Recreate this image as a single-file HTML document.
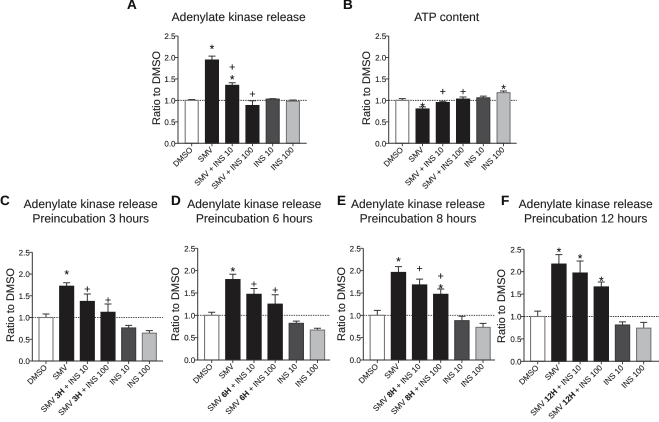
<!DOCTYPE html>
<html>
<head>
<meta charset="utf-8">
<title>Adenylate kinase and ATP panels</title>
<style>
html,body{margin:0;padding:0;background:#fff;width:659px;height:422px;overflow:hidden}
svg{display:block;font-family:"Liberation Sans",sans-serif;filter:blur(0.35px);text-rendering:geometricPrecision}
text{stroke:#222;stroke-width:0.12}
</style>
</head>
<body>
<svg id="figure" width="659" height="422" viewBox="0 0 659 422" xmlns="http://www.w3.org/2000/svg"></svg>
<script>
// Chart data
const categories = ["DMSO", "SMV", "SMV{h} + INS 10", "SMV{h} + INS 100", "INS 10", "INS 100"];
const tickLabels = ["0.0", "0.5", "1.0", "1.5", "2.0", "2.5"];
const tickValues = [0, 0.5, 1, 1.5, 2, 2.5];
const referenceValue = 1;

const valuesA = [1.00, 1.94, 1.35, 0.88, 1.03, 0.98];
const errorsA = [0.02, 0.09, 0.06, 0.11, 0.01, 0.03];
const marksA = ["", "*", "*+", "+", "", ""];

const valuesB = [1.00, 0.80, 0.95, 1.03, 1.06, 1.18];
const errorsB = [0.04, 0.05, 0.03, 0.05, 0.04, 0.04];
const marksB = ["", "*", "+", "+", "", "*"];

const valuesC = [1.00, 1.72, 1.37, 1.12, 0.76, 0.64];
const errorsC = [0.08, 0.08, 0.17, 0.19, 0.06, 0.06];
const marksC = ["", "*", "+", "+", "", ""];

const valuesD = [1.00, 1.80, 1.47, 1.25, 0.82, 0.67];
const errorsD = [0.07, 0.12, 0.13, 0.21, 0.05, 0.04];
const marksD = ["", "*", "+", "+", "", ""];

const valuesE = [1.00, 1.96, 1.68, 1.47, 0.88, 0.73];
const errorsE = [0.11, 0.13, 0.13, 0.12, 0.10, 0.09];
const marksE = ["", "*", "+", "*+", "", ""];

const valuesF = [1.00, 2.17, 1.97, 1.66, 0.81, 0.74];
const errorsF = [0.12, 0.21, 0.27, 0.11, 0.07, 0.13];
const marksF = ["", "*", "*", "*", "", ""];

// Styling and layout (not data)
const fills = ["#ffffff", "#1f1d1e", "#1f1d1e", "#1f1d1e", "#4c4c4e", "#bcbdbf"];
const strokes = ["#77777a", "#1f1d1e", "#1f1d1e", "#1f1d1e", "#3c3c3e", "#77777a"];
const panels = [
  {id:"a", letter:"A", lx:127, ly:9, title:["Adenylate kinase release"], tx:238.7, ty:21, values:valuesA, errors:errorsA, marks:marksA, hour:"",
   gaps:[[],[10],[6,16],[7],[],[]],
   axisX:178, top:36, bottom:143.3, first:191.7, step:20.25, barW:13, right:306.7, ylx:160, yly:88},
  {id:"b", letter:"B", lx:343, ly:9, title:["ATP content"], tx:446.7, ty:21, values:valuesB, errors:errorsB, marks:marksB, hour:"",
   gaps:[[],[2.5],[10],[5.7],[],[5]],
   axisX:388.7, top:36, bottom:143.3, first:402.3, step:20.25, barW:13, right:516.7, ylx:370, yly:88},
  {id:"c", letter:"C", lx:0, ly:205, title:["Adenylate kinase release","Preincubation 3 hours"], tx:90.7, ty:208, values:valuesC, errors:errorsC, marks:marksC, hour:"3H",
   gaps:[[],[11],[5],[4],[],[]],
   axisX:32.3, top:252.3, bottom:361, first:46, step:20.67, barW:14, right:163, ylx:14, yly:305},
  {id:"d", letter:"D", lx:171, ly:205, title:["Adenylate kinase release","Preincubation 6 hours"], tx:254.3, ty:208, values:valuesD, errors:errorsD, marks:marksD, hour:"6H",
   gaps:[[],[5.5],[4.5],[4.8],[],[]],
   axisX:197.7, top:248.3, bottom:360, first:211.7, step:21.15, barW:14.3, right:330, ylx:179, yly:304},
  {id:"e", letter:"E", lx:337, ly:205, title:["Adenylate kinase release","Preincubation 8 hours"], tx:418, ty:208, values:valuesE, errors:errorsE, marks:marksE, hour:"8H",
   gaps:[[],[8],[10.8],[3.3,13],[],[]],
   axisX:363.3, top:248.3, bottom:360, first:377.3, step:21.15, barW:14.3, right:495, ylx:345, yly:304},
  {id:"f", letter:"F", lx:501, ly:205, title:["Adenylate kinase release","Preincubation 12 hours"], tx:585.7, ty:208, values:valuesF, errors:errorsF, marks:marksF, hour:"12H",
   gaps:[[],[5.4],[5.4],[4],[],[]],
   axisX:524, top:249.3, bottom:361.3, first:537.7, step:21.2, barW:14.3, right:659, ylx:505, yly:306}
];

const NS = "http://www.w3.org/2000/svg";
const root = document.getElementById("figure");
function make(tag, attrs, parent, text) {
  const el = document.createElementNS(NS, tag);
  for (const k in attrs) el.setAttribute(k, attrs[k]);
  if (text !== undefined) el.textContent = text;
  parent.appendChild(el);
  return el;
}

panels.forEach(function (p) {
  const yScale = function (v) { return p.bottom - (v / 2.5) * (p.bottom - p.top); };
  const xScale = function (i) { return p.first + i * p.step; };

  const g = make("g", {}, root);
  
  

  const letter = make("text", {x:p.lx, y:p.ly, "font-size":13.5, "font-weight":"bold", fill:"#111"}, g, p.letter);
  
  

  p.title.forEach(function (line, i) {
    const t = make("text", {x:p.tx, y:p.ty + i * 14.7, "font-size":12, "text-anchor":"middle", fill:"#222"}, g, line);
    
    
  });

  const yTitle = make("text", {x:p.ylx, y:p.yly, "font-size":11, "text-anchor":"middle", fill:"#222",
    transform:"rotate(-90 " + p.ylx + " " + p.yly + ")"}, g, "Ratio to DMSO");
  
  

  // reference line
  const ref = make("line", {x1:p.axisX, x2:p.right, y1:yScale(referenceValue), y2:yScale(referenceValue),
    stroke:"#333", "stroke-width":0.9, "stroke-dasharray":"1.4 1"}, g);
  
  

  // bars + error bars
  p.values.forEach(function (v, i) {
    const cx = xScale(i);
    const yTop = yScale(v);
    const yErr = yScale(v + p.errors[i]);

    const eb = make("path", {d:"M" + cx + " " + yTop + "V" + yErr + "M" + (cx - 3.5) + " " + yErr + "H" + (cx + 3.5),
      stroke:"#333", "stroke-width":1, fill:"none"}, g);
    
    

    const bar = make("rect", {x:cx - p.barW / 2, y:yTop, width:p.barW, height:p.bottom - yTop,
      fill:fills[i], stroke:strokes[i], "stroke-width":1.1}, g);
    
    

    // significance marks, stacked upward from the error bar
    const syms = p.marks[i].split("");
    syms.forEach(function (s, k) {
      const centerY = yErr - p.gaps[i][k];
      const size = s === "*" ? 12 : 10.5;
      const baseline = s === "*" ? centerY + size * 0.57 : centerY + size * 0.34;
      const m = make("text", {x:cx, y:baseline, "font-size":size, "text-anchor":"middle", fill:"#111"}, g, s);
      
      
    });

    // rotated category label
    const lx = cx + 1.5;
    const ly = p.bottom + 7;
    const label = make("text", {x:lx, y:ly, "font-size":8, "text-anchor":"end", fill:"#222",
      transform:"rotate(-45 " + lx + " " + ly + ")"}, g);
    
    
    const parts = categories[i].split("{h}");
    make("tspan", {}, label, parts[0]);
    if (parts.length > 1) {
      if (p.hour) {
        make("tspan", {"font-weight":"bold"}, label, " " + p.hour);
      }
      make("tspan", {}, label, parts[1]);
    }

    const tick = make("line", {x1:cx, x2:cx, y1:p.bottom, y2:p.bottom + 3, stroke:"#333", "stroke-width":0.9}, g);
    
    
  });

  // axes
  const yAxis = make("line", {x1:p.axisX, x2:p.axisX, y1:p.top, y2:p.bottom + 0.5, stroke:"#333", "stroke-width":1}, g);
  
  
  const xAxis = make("line", {x1:p.axisX, x2:p.right, y1:p.bottom, y2:p.bottom, stroke:"#333", "stroke-width":1}, g);
  
  

  tickValues.forEach(function (t, i) {
    const y = yScale(t);
    const tk = make("line", {x1:p.axisX - 3, x2:p.axisX, y1:y, y2:y, stroke:"#333", "stroke-width":0.9}, g);
    
    
    const tl = make("text", {x:p.axisX - 2.5, y:y + 3, "font-size":8, "text-anchor":"end", fill:"#222"}, g, tickLabels[i]);
    
    
  });
});
</script>
</body>
</html>
